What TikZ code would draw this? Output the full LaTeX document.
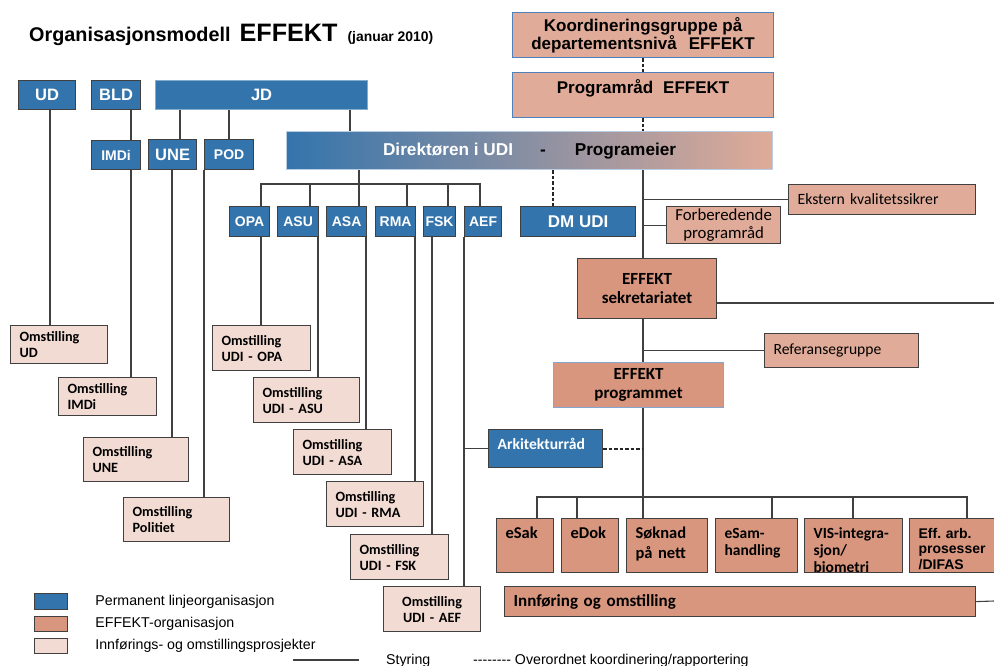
\documentclass[tikz,border=0pt]{standalone}
\usepackage{fontspec}
\setmainfont{Liberation Sans}
\newfontfamily\calibri{Carlito}
\usetikzlibrary{positioning}
\usetikzlibrary{calc}

\definecolor{permblue}{RGB}{52,116,172}
\definecolor{effsalmon}{RGB}{216,150,126}
\definecolor{efflight}{RGB}{224,171,152}
\definecolor{omstpink}{RGB}{242,219,211}
\definecolor{bordblue}{RGB}{79,129,189}
\definecolor{edgegray}{RGB}{64,64,64}
\newcommand{\fsz}[2]{\fontsize{#1}{#2}\selectfont}
\newcommand{\hy}{\mbox{-}}

\begin{document}
\begin{tikzpicture}[x=1pt,y=-1pt,
	sz/.style 2 args={minimum width=#1pt,minimum height=#2pt},
	box/.style={draw=edgegray,line width=1.2pt,anchor=north west,inner sep=0pt,align=center},
	permbox/.style={box,fill=permblue,text=white,font=\bfseries\fsz{16.5}{19}},
	permsmall/.style={permbox,font=\bfseries\fsz{14}{17}},
	omstbox/.style={box,fill=omstpink,font=\calibri\bfseries\fsz{14.2}{16},align=left,text width=#1,inner xsep=9pt},
	projbox/.style={box,fill=effsalmon,font=\calibri\bfseries\fsz{16.5}{20},align=left,text width=#1,inner xsep=9pt,text height=19.5pt,text depth=34.5pt},
	conn/.style={draw=black!75,line width=1.1pt},
	coordline/.style={draw=black!85,line width=2pt,dash pattern=on 3.5pt off 2pt},
	legtext/.style={font=\fsz{14.2}{17},inner sep=0pt}]
	\useasboundingbox (0,0) rectangle (994,665);
	
	\node[anchor=base west,inner sep=0pt] (title) at (29,41) {\bfseries\fsz{19.8}{24}Organisasjonsmodell\hspace{9pt}{\fsz{25.2}{30}EFFEKT}\hspace{10pt}{\fsz{13.9}{17}(januar 2010)}};
	
	% Departementene
	\node[permbox,sz={57}{29}] (UD) at (18,80) {UD};
	\node[permbox,sz={49}{29}] (BLD) at (91,80) {BLD};
	\node[permbox,draw=permblue!60!white,sz={212}{29}] (JD) at (155,80) {JD};
	\node[permsmall,sz={49}{29}] (IMDi) at (91,140) {IMDi};
	\node[permbox,sz={48}{30}] (UNE) at (148,139) {UNE};
	\node[permsmall,sz={49}{30}] (POD) at (204,139) {POD};
	
	% UDI
	\node[box,draw=bordblue!40!white,left color=permblue,right color=efflight,sz={486}{38},font=\bfseries\fsz{17.2}{20}] (dir) at (286,131) {\textcolor{white}{Direktøren i UDI}\hspace{27pt}-\hspace{29pt}Programeier};
	\node[permsmall,sz={40}{30}] (OPA) at (229,206) {OPA};
	\node[permsmall,sz={41}{30}] (ASU) at (277,206) {ASU};
	\node[permsmall,sz={40}{30}] (ASA) at (326,206) {ASA};
	\node[permsmall,sz={40}{30}] (RMA) at (375,206) {RMA};
	\node[permsmall,sz={32}{30}] (FSK) at (423,206) {FSK};
	\node[permsmall,sz={37}{30}] (AEF) at (464,206) {AEF};
	\node[permbox,sz={115}{30},font=\bfseries\fsz{17}{19}] (DMUDI) at (520,206) {DM UDI};
	\node[permbox,sz={114}{38},font=\calibri\bfseries\fsz{15.6}{18},align=left,text width=96pt,inner xsep=9pt,text height=19.5pt,text depth=18.5pt] (ark) at (488,429) {Arkitekturråd};
	
	% EFFEKT-organisasjon
	\node[box,fill=efflight,draw=bordblue,sz={261}{45},font=\bfseries\fsz{17}{17}] (koord) at (512,12) {Koordineringsgruppe på\\departementsnivå\hspace{12pt}EFFEKT};
	\node[box,fill=efflight,draw=bordblue,sz={261}{45},font=\bfseries\fsz{17}{17},text height=21pt,text depth=24pt] (progrd) at (512,72) {Programråd\hspace{10pt}EFFEKT};
	\node[box,fill=efflight,sz={187}{30},font=\calibri\fsz{15.7}{18},align=left,text width=169pt,inner xsep=9pt] (ekst) at (788,184) {Ekstern kvalitetssikrer};
	\node[box,fill=efflight,sz={114}{37},font=\calibri\fsz{16.8}{18}] (forb) at (666,206) {Forberedende\\programråd};
	\node[box,fill=effsalmon,sz={139}{60},font=\calibri\bfseries\fsz{17}{19}] (sek) at (577,258) {EFFEKT\\sekretariatet};
	\node[box,fill=efflight,sz={154}{34},font=\calibri\fsz{15.6}{18},align=left,text width=136pt,inner xsep=9pt] (ref) at (764,333) {Referansegruppe};
	\node[box,fill=effsalmon,draw=bordblue!70,sz={170}{45},font=\calibri\bfseries\fsz{17}{19}] (prg) at (553,362) {EFFEKT\\programmet};
	
	% Prosjektene
	\node[projbox=39pt,sz={57}{54}] (eSak) at (496,518) {eSak};
	\node[projbox=39pt,sz={57}{54}] (eDok) at (561,518) {eDok};
	\node[projbox=63pt,sz={81}{54}] (sok) at (626,518) {Søknad\\på nett};
	\node[projbox=64pt,sz={82}{54},font=\calibri\bfseries\fsz{15.5}{17}] (esam) at (715,518) {eSam-\\handling};
	\node[projbox=80pt,sz={98}{54},font=\calibri\bfseries\fsz{15.5}{17}] (vis) at (804,518) {VIS-integra-\\sjon/\\biometri};
	\node[projbox=73pt,sz={91}{54},font=\bfseries\fsz{14}{15.5}] (eff) at (909,518) {Eff.\ arb.\\prosesser\\/DIFAS};
	\node[box,fill=effsalmon,sz={471}{30},font=\calibri\bfseries\fsz{17}{19},align=left,text width=453pt,inner xsep=9pt] (innf) at (504,586) {Innføring og omstilling};
	
	% Omstilling
	\node[omstbox=79pt,sz={97}{38}] (oUD) at (10,325) {Omstilling\\UD};
	\node[omstbox=80pt,sz={98}{38}] (oIMDi) at (58,377) {Omstilling\\IMDi};
	\node[omstbox=87pt,sz={105}{44}] (oUNE) at (83,437) {Omstilling\\UNE};
	\node[omstbox=88pt,sz={106}{44}] (oPol) at (123,497) {Omstilling\\Politiet};
	\node[omstbox=80pt,sz={98}{45}] (oOPA) at (212,325) {Omstilling\\UDI - OPA};
	\node[omstbox=88pt,sz={106}{45}] (oASU) at (253,377) {Omstilling\\UDI - ASU};
	\node[omstbox=80pt,sz={98}{45}] (oASA) at (293,429) {Omstilling\\UDI - ASA};
	\node[omstbox=79pt,sz={97}{45}] (oRMA) at (326,481) {Omstilling\\UDI - RMA};
	\node[omstbox=80pt,sz={98}{45}] (oFSK) at (350,534) {Omstilling\\UDI - FSK};
	\node[omstbox=79pt,sz={97}{45},align=center] (oAEF) at (383,586) {Omstilling\\UDI - AEF};
	
	% Styring, venstre side
	\draw[conn] (UD.south -| 50,0) -- (oUD.north -| 50,0);
	\draw[conn] (BLD.south -| 131,0) -- (IMDi.north -| 131,0);
	\draw[conn] (IMDi.south -| 131,0) -- (oIMDi.north -| 131,0);
	\draw[conn] (JD.south -| 180,0) -- (UNE.north -| 180,0);
	\draw[conn] (JD.south -| 229,0) -- (POD.north -| 229,0);
	\draw[conn] (JD.south -| 350,0) -- (dir.north -| 350,0);
	\draw[conn] (UNE.south -| 172,0) -- (oUNE.north -| 172,0);
	\draw[conn] (POD.south -| 204,0) -- (oPol.north -| 204,0);
	
	% UDI-avdelingene
	\coordinate (bar) at (359,184);
	\draw[conn] (dir.south -| bar) -- (ASA.north -| bar);
	\draw[conn] (OPA.north -| 261,0) -- (bar -| 261,0) -- (bar -| 480,0) -- (AEF.north -| 480,0);
	\draw[conn] (bar -| 310,0) -- (ASU.north -| 310,0);
	\draw[conn] (bar -| 407,0) -- (RMA.north -| 407,0);
	\draw[conn] (bar -| 448,0) -- (FSK.north -| 448,0);
	\draw[conn] (OPA.south -| 261,0) -- (oOPA.north -| 261,0);
	\draw[conn] (ASU.south -| 318,0) -- (oASU.north -| 318,0);
	\draw[conn] (ASA.south -| 366,0) -- (oASA.north -| 366,0);
	\draw[conn] (RMA.south -| 415,0) -- (oRMA.north -| 415,0);
	\draw[conn] (FSK.south -| 432,0) -- (oFSK.north -| 432,0);
	\draw[conn] (AEF.south -| 464,0) -- (oAEF.north -| 464,0);
	\draw[conn] (ark.west -| 464,0) -- (ark.west);
	
	% Programmet
	\draw[coordline] (koord.south) -- (progrd.north);
	\draw[coordline] (progrd.south) -- (dir.north -| progrd.south);
	\draw[coordline] (dir.south -| 553,0) -- (DMUDI.north -| 553,0);
	\draw[conn] (dir.south -| 643,0) -- (sek.north -| 643,0);
	\draw[conn] (ekst.west -| 643,0) -- (ekst.west);
	\draw[conn] (forb.west -| 643,0) -- (forb.west);
	\coordinate (edge1) at (994,303);
	\coordinate (edge2) at (994,601);
	\draw[conn] (sek.east |- edge1) -- (edge1);
	\draw[conn] (sek.south -| 643,0) -- (prg.north -| 643,0);
	\draw[conn] (ref.west -| 643,0) -- (ref.west);
	\draw[conn] (prg.south -| 643,0) -- (sok.north -| 643,0);
	\draw[coordline] (ark.east) -- (ark.east -| 643,0);
	\coordinate (pbar) at (643,497);
	\draw[conn] (eSak.north -| 537,0) -- (pbar -| 537,0) -- (pbar -| 967,0) -- (eff.north -| 967,0);
	\draw[conn] (pbar -| 577,0) -- (eDok.north -| 577,0);
	\draw[conn] (pbar -| 772,0) -- (esam.north -| 772,0);
	\draw[conn] (pbar -| 853,0) -- (vis.north -| 853,0);
	\draw[conn] (innf.east) -- (edge2);
	
	% Tegnforklaring
	\node[box,fill=permblue,sz={33}{16}] (leg1) at (34,593) {};
	\node[box,fill=effsalmon,sz={33}{15}] (leg2) at (34,616) {};
	\node[box,fill=omstpink,sz={33}{15}] (leg3) at (34,638) {};
	\node[legtext,right=27pt of leg1] (leg1t) {Permanent linjeorganisasjon};
	\node[legtext,right=27pt of leg2] (leg2t) {EFFEKT-organisasjon};
	\node[legtext,right=27pt of leg3] (leg3t) {Innførings- og omstillingsprosjekter};
	\node[legtext,anchor=base west] (styr) at (386,664) {Styring};
	\draw[conn] ([xshift=-27pt,yshift=4pt]styr.base west) -- ++(-66,0);
	\node[legtext,anchor=base west] (overord) at (473,664) {\hy\hy\hy\hy\hy\hy\hy\hy\ Overordnet koordinering/rapportering};
\end{tikzpicture}
\end{document}
